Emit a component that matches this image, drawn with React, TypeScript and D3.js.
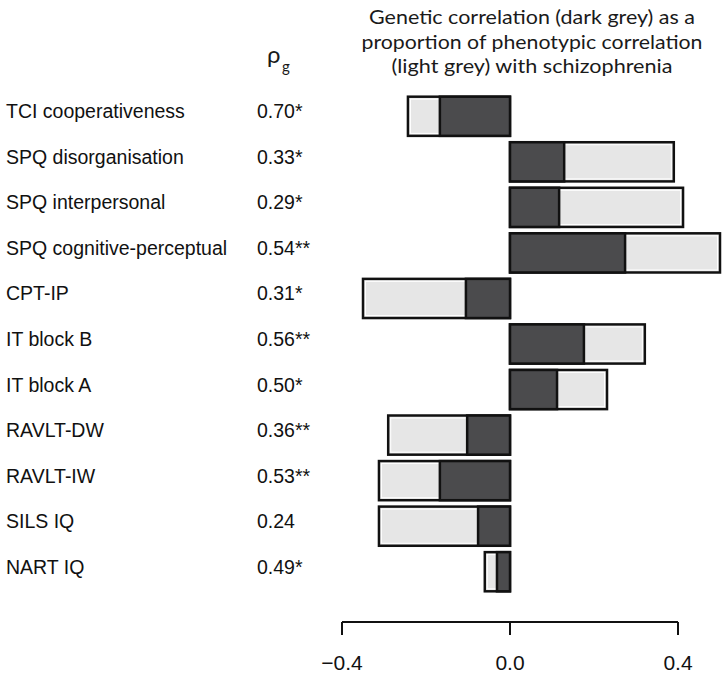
import React from 'react';
import * as d3 from 'd3';

// measures, top to bottom
const measures = [
  'TCI cooperativeness',
  'SPQ disorganisation',
  'SPQ interpersonal',
  'SPQ cognitive-perceptual',
  'CPT-IP',
  'IT block B',
  'IT block A',
  'RAVLT-DW',
  'RAVLT-IW',
  'SILS IQ',
  'NART IQ',
];
const rhoLabels = ['0.70*', '0.33*', '0.29*', '0.54**', '0.31*', '0.56**', '0.50*', '0.36**', '0.53**', '0.24', '0.49*'];
// phenotypic correlation (light grey, full bar)
const phenotypic = [-0.243, 0.39, 0.412, 0.5, -0.35, 0.321, 0.231, -0.29, -0.312, -0.312, -0.06];
// genetic part (dark grey)
const genetic = [-0.167, 0.129, 0.117, 0.274, -0.105, 0.176, 0.112, -0.102, -0.167, -0.076, -0.031];
const xTicks = [-0.4, 0.0, 0.4];
const titleLines = [
  'Genetic correlation (dark grey) as a',
  'proportion of phenotypic correlation',
  '(light grey) with schizophrenia',
];
const titleWidths = [326, 341, 281];

const W = 724;
const H = 678;
const DARK = '#4b4b4d';
const LIGHT = '#e6e6e6';

const App: React.FC = () => {
  const x = d3.scaleLinear().domain([-0.4, 0.4]).range([342, 678]);
  const y = d3.scaleBand<string>().domain(measures).range([93.5, 594.5]).paddingInner(0.14).paddingOuter(0.07);
  const bh = y.bandwidth();
  const font = 'Liberation Sans, Arial, sans-serif';
  const titleFont = 'Lato, Noto Sans, sans-serif';
  const lineY = 622;

  return (
    <svg width={W} height={H} style={{ position: 'absolute', left: 0, top: 0, background: '#fff' }}>
      {/* title */}
      {titleLines.map((t, i) => (
        <text key={t} x={532} y={24 + i * 24.5} textAnchor="middle" fontFamily={titleFont} fontSize={20}
          textLength={titleWidths[i]} lengthAdjust="spacingAndGlyphs" fill="#1a1a1a">{t}</text>
      ))}
      <text x={267} y={63} fontFamily={titleFont} fontSize={24} fill="#1a1a1a">ρ</text>
      <text x={282} y={72} fontFamily={titleFont} fontSize={15} fill="#1a1a1a">g</text>

      {measures.map((m, i) => {
        const yc = (y(m) as number) + bh / 2;
        const p = phenotypic[i];
        const g = genetic[i];
        const x0 = x(0);
        return (
          <g key={m}>
            <text x={6} y={yc + 2} fontFamily={font} fontSize={19.5} fill="#111">{m}</text>
            <text x={257} y={yc + 2} fontFamily={font} fontSize={19.5} fill="#111">{rhoLabels[i]}</text>
            <rect x={Math.min(x0, x(p))} y={y(m)} width={Math.abs(x(p) - x0)} height={bh}
              fill={LIGHT} stroke="#111" strokeWidth={2.5} />
            <rect x={Math.min(x0, x(p)) + 2.5} y={(y(m) as number) + 2.5} width={Math.max(0, Math.abs(x(p) - x0) - 5)} height={bh - 5}
              fill="none" stroke="#fff" strokeWidth={1} />
            <rect x={Math.min(x0, x(g))} y={y(m)} width={Math.abs(x(g) - x0)} height={bh}
              fill={DARK} stroke="#111" strokeWidth={2.5} />
          </g>
        );
      })}

      {/* axis */}
      <line x1={x(-0.4)} x2={x(0.4)} y1={lineY} y2={lineY} stroke="#111" strokeWidth={2} />
      {xTicks.map((t) => (
        <g key={t}>
          <line x1={x(t)} x2={x(t)} y1={lineY} y2={lineY + 13} stroke="#111" strokeWidth={2} />
          <text x={x(t)} y={670} textAnchor="middle" fontFamily={font} fontSize={21} fill="#111">
            {d3.format('.1f')(t)}
          </text>
        </g>
      ))}
    </svg>
  );
};

export default App;
